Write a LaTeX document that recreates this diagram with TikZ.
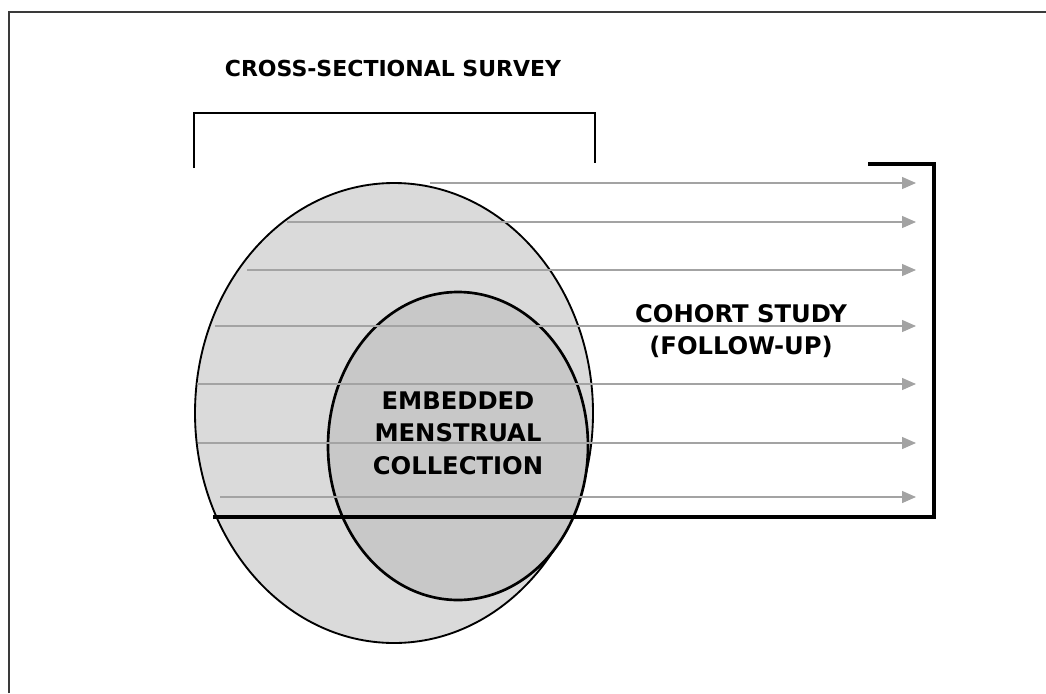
\documentclass[tikz,border=0pt]{standalone}
\usepackage{fontspec}
\setmainfont{DejaVu Sans}
\usepackage{xcolor}
\usetikzlibrary{arrows.meta}
\definecolor{outerfill}{HTML}{DADADA}
\definecolor{innerfill}{HTML}{C8C8C8}
\definecolor{flowgray}{HTML}{A3A3A3}
\definecolor{framegray}{HTML}{3A3A3A}
\begin{document}
\begin{tikzpicture}[
  x=0.75pt,y=-0.75pt,
  label/.style={font=\bfseries\fontsize{18.2}{24.4}\selectfont,align=center,inner sep=0pt},
  heading/.style={font=\bfseries\fontsize{16.5}{20}\selectfont,inner sep=0pt},
  group/.style={draw=black,line width=1.4pt,fill=outerfill},
  subgroup/.style={draw=black,line width=2pt,fill=innerfill},
  flow/.style={-{Triangle[length=10.5pt,width=9pt]},draw=flowgray,fill=flowgray,line width=1pt},
  bracket/.style={draw=black,line width=1.5pt},
  period/.style={draw=black,line width=3pt}
]
\useasboundingbox (0,0) rectangle (1046,693);
% frame
\draw[framegray,line width=1.5pt] (9,693) -- (9,12) -- (1046,12);

% survey sample and menstrual sub-sample
\draw[group] (394,413) ellipse [x radius=199,y radius=230];
\draw[subgroup] (458,446) ellipse [x radius=130,y radius=154];

% follow-up arrows
\foreach \sy/\sx [count=\i] in {183/430,222/287,270/247,326/215,384/197,443/198,497/220}{
  \coordinate (start\i) at (\sx,\sy);
  \coordinate (end\i) at (916,\sy);
  \draw[flow] (start\i) -- (end\i);
}

% brackets
\coordinate (survL) at (194,168);
\coordinate (survR) at (595,163);
\draw[bracket] (survL) |- (394,113) -| (survR);
\coordinate (cohortL) at (213,517);
\coordinate (cohortT) at (868,164);
\draw[period] (cohortL) -- (934,517) |- (cohortT);

\node[heading] (survey) at (393,68) {CROSS-SECTIONAL SURVEY};
\node[label] (cohort) at (741,331) {COHORT STUDY\\(FOLLOW-UP)};
\node[label] (menses) at (458,433) {EMBEDDED\\MENSTRUAL\\COLLECTION};
\end{tikzpicture}
\end{document}
